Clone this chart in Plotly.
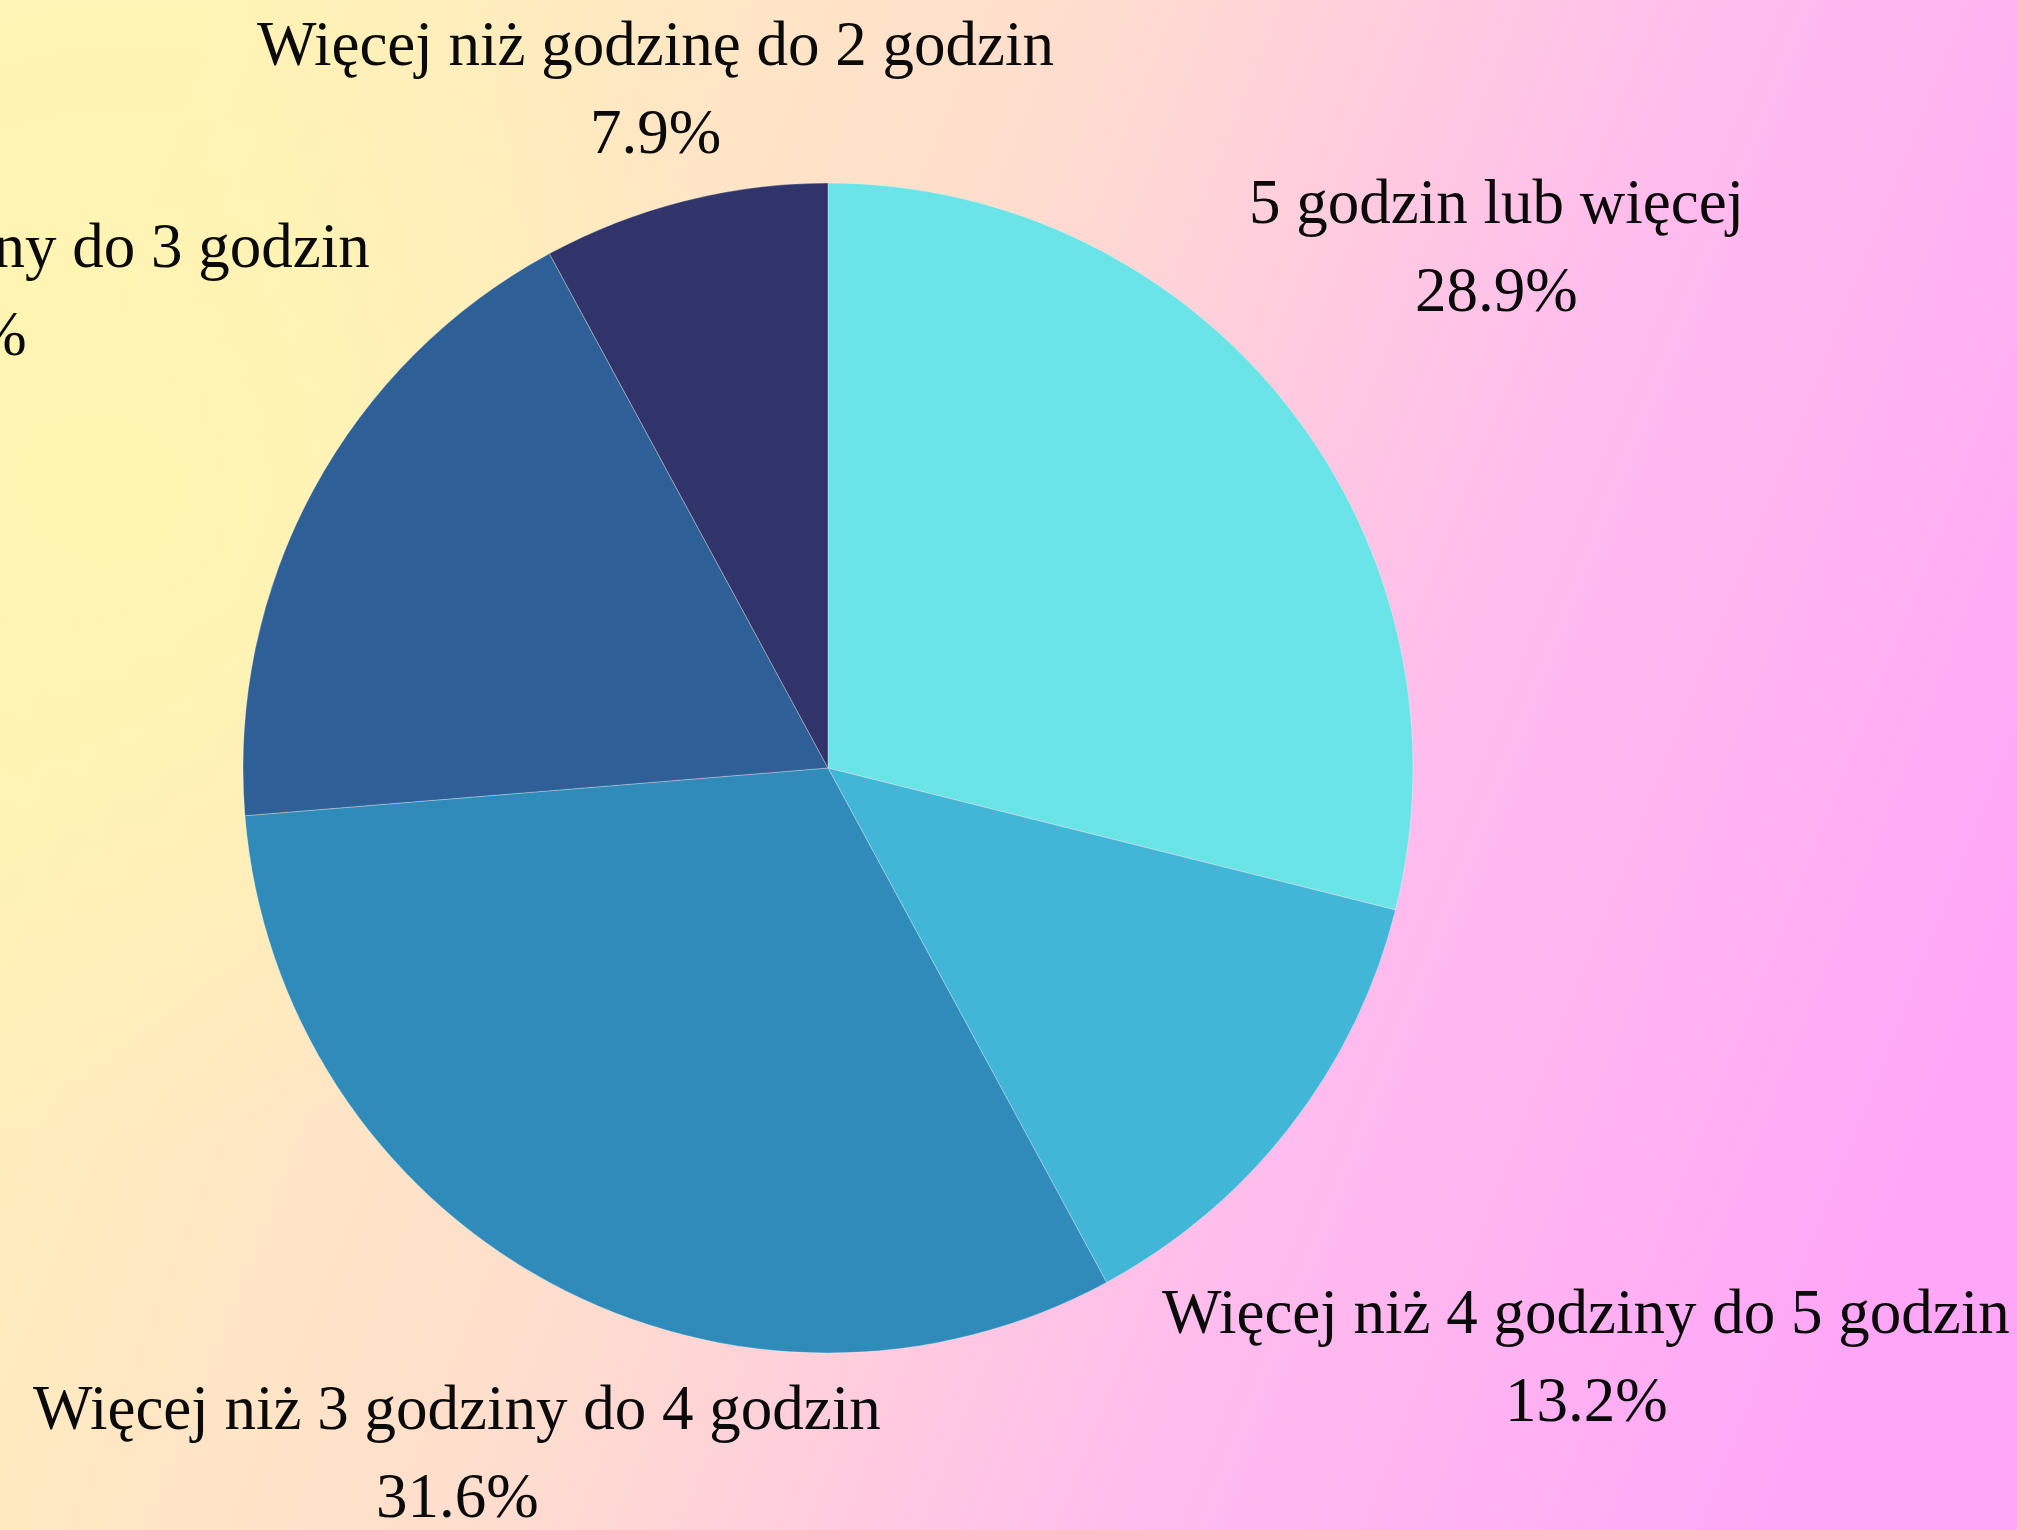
import base64
import math
import plotly.graph_objects as go

# ---- data ----
categories = [
    "5 godzin lub więcej",
    "Więcej niż 4 godziny do 5 godzin",
    "Więcej niż 3 godziny do 4 godzin",
    "Więcej niż 2 godziny do 3 godzin",
    "Więcej niż godzinę do 2 godzin",
]
values = [28.9, 13.2, 31.6, 18.4, 7.9]

# ---- style ----
slice_colors = ["#6BE4E8", "#42B6D6", "#2E8BBA", "#2E5F96", "#31346B"]
label_radius = [1.45, 1.64, 1.33, 1.715, 1.20]  # label block distance from centre, in pie radii
W, H = 2017, 1530
CX, CY, R = 828, 768, 585                          # pie centre / radius in px (from top-left)
FONT = "Liberation Serif"
FONT_SIZE = 63
LINE_HALF = 44

# ---- background gradient (SVG data URI) ----
svg = f'''<svg xmlns="http://www.w3.org/2000/svg" width="{W}" height="{H}" viewBox="0 0 {W} {H}" preserveAspectRatio="none">
<defs>
<linearGradient id="g" x1="0" y1="0.35" x2="1" y2="0.65">
<stop offset="0" stop-color="#FFF3B6"/>
<stop offset="0.40" stop-color="#FFDDCE"/>
<stop offset="0.68" stop-color="#FFBDEC"/>
<stop offset="1" stop-color="#FFA6F7"/>
</linearGradient>
<radialGradient id="r" cx="130" cy="500" r="650" gradientUnits="userSpaceOnUse">
<stop offset="0" stop-color="#FFF6B0" stop-opacity="0.95"/>
<stop offset="0.6" stop-color="#FFF4B2" stop-opacity="0.5"/>
<stop offset="1" stop-color="#FFF4B2" stop-opacity="0"/>
</radialGradient>
</defs>
<rect width="{W}" height="{H}" fill="url(#g)"/>
<rect width="{W}" height="{H}" fill="url(#r)"/>
</svg>'''
bg_uri = "data:image/svg+xml;base64," + base64.b64encode(svg.encode("utf-8")).decode("ascii")

fig = go.Figure()
fig.add_trace(go.Pie(
    labels=categories,
    values=values,
    sort=False,
    direction="clockwise",
    rotation=0,
    textinfo="none",
    hoverinfo="label+percent",
    marker=dict(colors=slice_colors, line=dict(color="rgba(255,255,255,0.3)", width=1)),
    domain=dict(x=[(CX - R) / W, (CX + R) / W],
                y=[(H - CY - R) / H, (H - CY + R) / H]),
    showlegend=False,
))

# labels placed along each slice's mid-angle
total = sum(values)
annotations = []
cum = 0.0
for cat, v, k in zip(categories, values, label_radius):
    mid = (cum + v / 2) / total * 2 * math.pi
    cum += v
    px = CX + k * R * math.sin(mid)
    py = (H - CY) + k * R * math.cos(mid)
    pct = f"{v / total * 100:.1f}%"
    for txt, shift in ((cat, LINE_HALF), (pct, -LINE_HALF)):
        annotations.append(dict(
            x=px / W, y=py / H, xref="paper", yref="paper",
            text=txt, showarrow=False, xanchor="center", yanchor="middle",
            yshift=shift, font=dict(family=FONT, size=FONT_SIZE, color="#0A0A0A"),
        ))

fig.update_layout(
    width=W, height=H,
    margin=dict(l=0, r=0, t=0, b=0),
    paper_bgcolor="#FFE0D0",
    plot_bgcolor="rgba(0,0,0,0)",
    annotations=annotations,
    images=[dict(source=bg_uri, xref="paper", yref="paper", x=0, y=1,
                 sizex=1, sizey=1, xanchor="left", yanchor="top",
                 sizing="stretch", layer="below")],
)

fig.write_html(
    "out.html",
    config={"displayModeBar": False},
    post_script="document.body.style.margin='0';document.body.style.overflow='hidden';",
)
